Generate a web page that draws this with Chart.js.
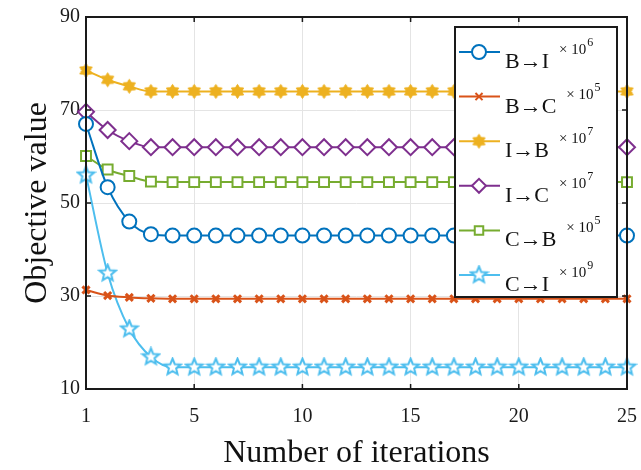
<!DOCTYPE html>
<html>
<head>
<meta charset="utf-8">
<script src="https://cdn.jsdelivr.net/npm/chart.js@4"></script>
<style>
html,body{margin:0;padding:0;background:#fff;}
canvas{display:block;}
</style>
</head>
<body>
<canvas id="c" width="641" height="470"></canvas>
<script>
// ---- data ----
const iterations = [0,1,2,3,4,5,6,7,8,9,10,11,12,13,14,15,16,17,18,19,20,21,22,23,24,25];
const xTickValues = [0,5,10,15,20,25];
const xTickLabels = ['1','5','10','15','20','25'];
const yTickValues = [10,30,50,70,90];

const seriesNames = ['B\u2192I','B\u2192C','I\u2192B','I\u2192C','C\u2192B','C\u2192I'];
const seriesExponents = ['6','5','7','7','5','9'];

const valsBI = [67.0,53.4,46.0,43.3,43.0,43.0,43.0,43.0,43.0,43.0,43.0,43.0,43.0,43.0,43.0,43.0,43.0,43.0,43.0,43.0,43.0,43.0,43.0,43.0,43.0,43.0];
const valsBC = [31.3,30.1,29.7,29.5,29.4,29.4,29.4,29.4,29.4,29.4,29.4,29.4,29.4,29.4,29.4,29.4,29.4,29.4,29.4,29.4,29.4,29.4,29.4,29.4,29.4,29.4];
const valsIB = [78.5,76.5,75.1,74.0,74.0,74.0,74.0,74.0,74.0,74.0,74.0,74.0,74.0,74.0,74.0,74.0,74.0,74.0,74.0,74.0,74.0,74.0,74.0,74.0,74.0,74.0];
const valsIC = [69.6,65.7,63.3,62.0,62.0,62.0,62.0,62.0,62.0,62.0,62.0,62.0,62.0,62.0,62.0,62.0,62.0,62.0,62.0,62.0,62.0,62.0,62.0,62.0,62.0,62.0];
const valsCB = [60.1,57.2,55.8,54.6,54.5,54.5,54.5,54.5,54.5,54.5,54.5,54.5,54.5,54.5,54.5,54.5,54.5,54.5,54.5,54.5,54.5,54.5,54.5,54.5,54.5,54.5];
const valsCI = [56.0,34.9,22.9,16.9,14.7,14.7,14.7,14.7,14.7,14.7,14.7,14.7,14.7,14.7,14.7,14.7,14.7,14.7,14.7,14.7,14.7,14.7,14.7,14.7,14.7,14.7];

const seriesValues = [valsBI, valsBC, valsIB, valsIC, valsCB, valsCI];

// ---- styles ----
const FONT = '"Liberation Serif","Times New Roman",serif';
const colors = ['#0072BD','#D95319','#EDB120','#7E2F8E','#77AC30','#4DBEEE'];

function makeStar(n, outer, inner, fill, stroke, lw) {
  const size = Math.ceil(outer * 2 + lw + 2);
  const cv = document.createElement('canvas');
  cv.width = size; cv.height = size;
  const g = cv.getContext('2d');
  const c = size / 2;
  g.beginPath();
  for (let i = 0; i < n * 2; i++) {
    const r = i % 2 === 0 ? outer : inner;
    const a = -Math.PI / 2 + i * Math.PI / n;
    const px = c + r * Math.cos(a), py = c + r * Math.sin(a);
    if (i === 0) g.moveTo(px, py); else g.lineTo(px, py);
  }
  g.closePath();
  g.fillStyle = fill; g.fill();
  g.lineWidth = lw; g.strokeStyle = stroke; g.lineJoin = 'miter'; g.stroke();
  return cv;
}
const hexStar = makeStar(6, 7, 4.2, colors[2], colors[2], 1);
const pentStar = makeStar(5, 8.5, 3.8, '#ffffff', colors[5], 2);

const markerStyles = [
  {pointStyle:'circle', radius:7, borderWidth:2, bg:'#ffffff'},
  {pointStyle:'crossRot', radius:5, borderWidth:3, bg:colors[1]},
  {pointStyle:hexStar, radius:7, borderWidth:1, bg:colors[2]},
  {pointStyle:'rectRot', radius:8, borderWidth:2, bg:'#ffffff'},
  {pointStyle:'rect', radius:7, borderWidth:2, bg:'#ffffff'},
  {pointStyle:pentStar, radius:8, borderWidth:2, bg:'#ffffff'}
];
const legendRadius = [7, 5, 7, 7, 6, 8];

const datasets = seriesValues.map((vals, k) => ({
  label: seriesNames[k],
  data: vals.map((v, i) => ({x: iterations[i], y: v})),
  borderColor: colors[k],
  backgroundColor: markerStyles[k].bg,
  borderWidth: 2,
  pointStyle: markerStyles[k].pointStyle,
  pointRadius: markerStyles[k].radius,
  pointBorderWidth: markerStyles[k].borderWidth,
  pointBorderColor: colors[k],
  pointBackgroundColor: markerStyles[k].bg,
  cubicInterpolationMode: 'monotone',
  fill: false,
  clip: false
}));

// frame + inward ticks + legend
const framePlugin = {
  id: 'frame',
  afterDatasetsDraw(chart) {
    const {ctx, chartArea: a, scales} = chart;
    ctx.save();
    ctx.strokeStyle = '#1a1a1a';
    ctx.lineWidth = 2;
    ctx.strokeRect(a.left, a.top, a.right - a.left, a.bottom - a.top);
    ctx.lineWidth = 1.5;
    ctx.beginPath();
    const tl = 5;
    xTickValues.forEach(v => {
      const px = scales.x.getPixelForValue(v);
      ctx.moveTo(px, a.bottom); ctx.lineTo(px, a.bottom - tl);
      ctx.moveTo(px, a.top); ctx.lineTo(px, a.top + tl);
    });
    yTickValues.forEach(v => {
      const py = scales.y.getPixelForValue(v);
      ctx.moveTo(a.left, py); ctx.lineTo(a.left + tl, py);
      ctx.moveTo(a.right, py); ctx.lineTo(a.right - tl, py);
    });
    ctx.stroke();
    ctx.restore();
  },
  afterDraw(chart) {
    const ctx = chart.ctx;
    const bx = 455, by = 27, bw = 162, bh = 270;
    ctx.save();
    ctx.fillStyle = '#ffffff';
    ctx.fillRect(bx, by, bw, bh);
    ctx.strokeStyle = '#1a1a1a';
    ctx.lineWidth = 2;
    ctx.strokeRect(bx, by, bw, bh);
    const rowH = 44.6;
    for (let k = 0; k < seriesNames.length; k++) {
      const ry = 52 + k * rowH;
      ctx.strokeStyle = colors[k];
      ctx.lineWidth = 2;
      ctx.beginPath();
      ctx.moveTo(459, ry); ctx.lineTo(500, ry);
      ctx.stroke();
      ctx.strokeStyle = colors[k];
      ctx.fillStyle = markerStyles[k].bg;
      Chart.helpers.drawPoint(ctx, {
        pointStyle: markerStyles[k].pointStyle,
        radius: legendRadius[k],
        borderWidth: markerStyles[k].borderWidth,
        rotation: 0
      }, 479, ry);
      ctx.fillStyle = '#111';
      ctx.textAlign = 'left';
      ctx.textBaseline = 'alphabetic';
      ctx.font = '22px ' + FONT;
      ctx.fillText(seriesNames[k], 505, ry + 16);
      const w = ctx.measureText(seriesNames[k]).width;
      const sx = 505 + w + 10;
      ctx.font = '15px ' + FONT;
      ctx.fillText('\u00D7 10', sx, ry + 2);
      const w2 = ctx.measureText('\u00D7 10').width;
      ctx.font = '12px ' + FONT;
      ctx.fillText(seriesExponents[k], sx + w2 + 1, ry - 6);
    }
    ctx.restore();
  }
};

new Chart(document.getElementById('c'), {
  type: 'line',
  data: {datasets},
  options: {
    responsive: false,
    animation: false,
    devicePixelRatio: 1,
    layout: {padding: {top: 17, right: 0, left: 0, bottom: 0}},
    plugins: {legend: {display: false}, tooltip: {enabled: false}},
    scales: {
      x: {
        type: 'linear', min: 0, max: 25,
        afterBuildTicks: s => { s.ticks = xTickValues.map(v => ({value: v})); },
        afterFit: s => { s.height = 81; s.paddingRight = 14; s.paddingLeft = 0; },
        ticks: {
          autoSkip: false, maxRotation: 0, padding: 16,
          color: '#1a1a1a',
          font: {family: FONT, size: 20},
          callback: v => xTickLabels[xTickValues.indexOf(v)]
        },
        grid: {color: '#e4e4e4', lineWidth: 1, drawTicks: false},
        border: {display: false},
        title: {display: true, text: 'Number of iterations', color: '#111',
          font: {family: FONT, size: 32, lineHeight: 1}, padding: {top: 0, bottom: 0}}
      },
      y: {
        type: 'linear', min: 10, max: 90,
        afterBuildTicks: s => { s.ticks = yTickValues.map(v => ({value: v})); },
        afterFit: s => { s.width = 86; s.paddingTop = 0; s.paddingBottom = 0; },
        ticks: {
          padding: 6, color: '#1a1a1a',
          font: {family: FONT, size: 20}
        },
        grid: {color: '#e4e4e4', lineWidth: 1, drawTicks: false},
        border: {display: false},
        title: {display: true, text: 'Objective value', color: '#111',
          font: {family: FONT, size: 32, lineHeight: 1}, padding: {top: 22, bottom: 0}}
      }
    }
  },
  plugins: [framePlugin]
});
</script>
</body>
</html>
